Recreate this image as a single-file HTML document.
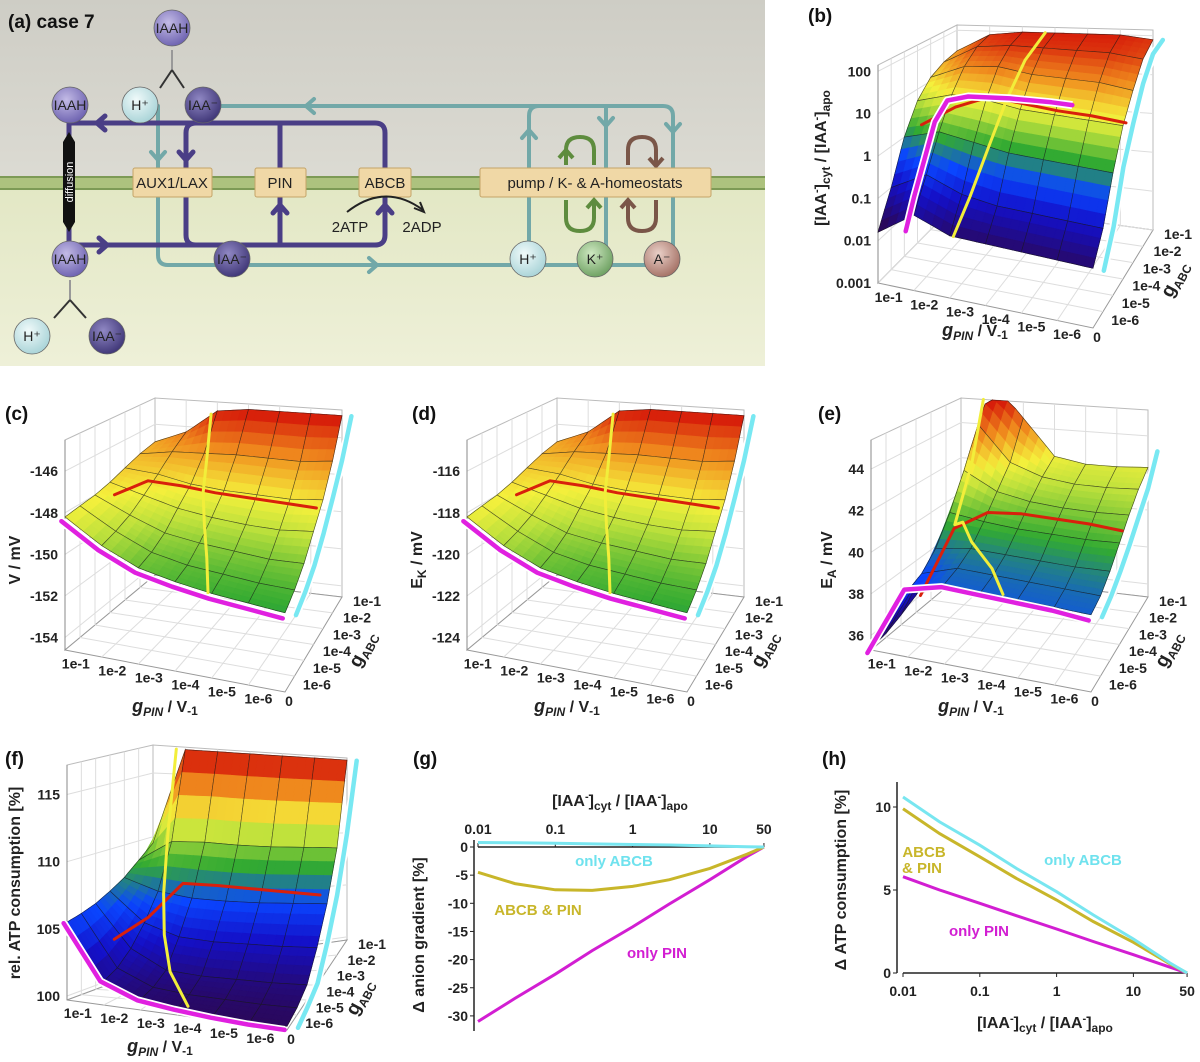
<!DOCTYPE html>
<html><head><meta charset="utf-8">
<style>
html,body{margin:0;padding:0;background:#fff;}
svg{display:block;font-family:"Liberation Sans",Arial,sans-serif;}
.tk{font-size:14px;font-weight:bold;fill:#222;}
.ttl{font-size:16px;font-weight:bold;fill:#222;}
.lbl{font-size:19px;font-weight:bold;fill:#111;}
.ct{font-size:14px;fill:#222;text-anchor:middle;}
.bx{font-size:15px;fill:#222;text-anchor:middle;}
</style></head>
<body>
<svg id="fig" width="1200" height="1062" viewBox="0 0 1200 1062">
<defs>
<linearGradient id="gUp" x1="0" y1="0" x2="0" y2="1"><stop offset="0" stop-color="#cecdc5"/><stop offset="1" stop-color="#dcdbd3"/></linearGradient>
<linearGradient id="gDn" x1="0" y1="0" x2="0" y2="1"><stop offset="0" stop-color="#e2e7c4"/><stop offset="1" stop-color="#eef0d8"/></linearGradient>
<radialGradient id="cIaah" cx="0.4" cy="0.35" r="0.7"><stop offset="0" stop-color="#c3bbe6"/><stop offset="1" stop-color="#6a5fae"/></radialGradient>
<radialGradient id="cIaa" cx="0.4" cy="0.35" r="0.7"><stop offset="0" stop-color="#9088c4"/><stop offset="1" stop-color="#3c3374"/></radialGradient>
<radialGradient id="cH" cx="0.4" cy="0.35" r="0.7"><stop offset="0" stop-color="#f0fafa"/><stop offset="1" stop-color="#a6d2d6"/></radialGradient>
<radialGradient id="cK" cx="0.4" cy="0.35" r="0.7"><stop offset="0" stop-color="#cfe8c2"/><stop offset="1" stop-color="#6a9e5e"/></radialGradient>
<radialGradient id="cA" cx="0.4" cy="0.35" r="0.7"><stop offset="0" stop-color="#ead0c8"/><stop offset="1" stop-color="#a26e62"/></radialGradient>
</defs>

<!-- Panel (a) -->
<g>
<rect x="0" y="0" width="765" height="183" fill="url(#gUp)"/>
<rect x="0" y="183" width="765" height="183" fill="url(#gDn)"/>
<g>
<rect x="0" y="177" width="765" height="12" fill="#adc27e"/>
<line x1="0" y1="177" x2="765" y2="177" stroke="#7d9a55" stroke-width="2"/>
<line x1="0" y1="189" x2="765" y2="189" stroke="#7d9a55" stroke-width="2"/>
</g>
<text x="8" y="28" class="lbl">(a)  case 7</text>

<g fill="none" stroke="#72a8a8" stroke-width="4" stroke-linecap="round">
<path d="M203,106 H663 Q673,106 673,116 V250"/>
<path d="M529,250 V116 Q529,106 539,106"/>
<path d="M606,106 V250"/>
<path d="M158,106 V168 M158,197 V255 Q158,265 168,265 H662"/>
<polyline points="314,99 306,106 314,113"/>
<polyline points="369,258 377,265 369,272"/>
<polyline points="151,152 158,160 165,152"/>
<polyline points="522,138 529,130 536,138"/>
<polyline points="599,118 606,126 613,118"/>
<polyline points="666,124 673,132 680,124"/>
</g>
<g fill="none" stroke="#5e8c3e" stroke-width="4">
<path d="M566,165 V150 Q566,137 580,137 Q594,137 594,150 V165"/>
<path d="M566,200 V218 Q566,231 580,231 Q594,231 594,218 V200"/>
<polyline points="559,158 566,150 573,158"/><polyline points="587,208 594,200 601,208"/>
</g>
<g fill="none" stroke="#7a5648" stroke-width="4">
<path d="M628,165 V150 Q628,137 642,137 Q656,137 656,150 V165"/>
<path d="M628,200 V218 Q628,231 642,231 Q656,231 656,218 V200"/>
<polyline points="649,158 656,166 663,158"/><polyline points="621,208 628,200 635,208"/>
</g>
<g fill="none" stroke="#4a3e86" stroke-width="5" stroke-linecap="round">
<path d="M70,123 H375 Q385,123 385,133 V168"/>
<path d="M69,123 V245 H375 Q385,245 385,235 V197"/>
<path d="M196,123 Q186,123 186,133 V168 M186,197 V235 Q186,245 196,245"/>
<path d="M280,123 V168 M280,197 V245"/>
<polyline points="105,116 97,123 105,130"/>
<polyline points="99,238 107,245 99,252"/>
<polyline points="179,152 186,160 193,152"/>
<polyline points="273,213 280,205 287,213"/>
<polyline points="378,213 385,205 392,213"/>
</g>
<g>
<path d="M69,132 L75,142 V222 L69,232 L63,222 V142 Z" fill="#111"/>
<text x="0" y="0" transform="translate(73,182) rotate(-90)" font-size="11" fill="#fff" text-anchor="middle">diffusion</text>
</g>
<g>
<rect x="133" y="168" width="79" height="29" rx="2" fill="#f0d8a6" stroke="#c4a468"/><text x="172" y="188" class="bx">AUX1/LAX</text>
<rect x="255" y="168" width="51" height="29" rx="2" fill="#f0d8a6" stroke="#c4a468"/><text x="280" y="188" class="bx">PIN</text>
<rect x="359" y="168" width="52" height="29" rx="2" fill="#f0d8a6" stroke="#c4a468"/><text x="385" y="188" class="bx">ABCB</text>
<rect x="480" y="168" width="231" height="29" rx="2" fill="#f0d8a6" stroke="#c4a468"/><text x="595" y="188" class="bx">pump / K- &amp; A-homeostats</text>
</g>
<g>
<path d="M347,212 Q385,182 423,210" fill="none" stroke="#222" stroke-width="2"/>
<polyline points="414,208 424,212 420,202" fill="none" stroke="#222" stroke-width="2"/>
<text x="350" y="232" class="bx">2ATP</text><text x="422" y="232" class="bx">2ADP</text>
</g>
<g stroke="#333" stroke-width="2" fill="none">
<line x1="172" y1="70" x2="172" y2="50" stroke="#999"/>
<path d="M172,70 L160,88 M172,70 L184,88"/>
<line x1="70" y1="300" x2="70" y2="280" stroke="#999"/>
<path d="M70,300 L54,318 M70,300 L86,318"/>
</g>
<g stroke="#666" stroke-width="0.8">
<circle cx="172" cy="28" r="18" fill="url(#cIaah)"/><text x="172" y="33" class="ct" stroke="none">IAAH</text>
<circle cx="140" cy="105" r="18" fill="url(#cH)"/><text x="140" y="110" class="ct" stroke="none">H⁺</text>
<circle cx="203" cy="105" r="18" fill="url(#cIaa)"/><text x="203" y="110" class="ct" stroke="none" fill="#ddd">IAA⁻</text>
<circle cx="70" cy="105" r="18" fill="url(#cIaah)"/><text x="70" y="110" class="ct" stroke="none">IAAH</text>
<circle cx="70" cy="259" r="18" fill="url(#cIaah)"/><text x="70" y="264" class="ct" stroke="none">IAAH</text>
<circle cx="232" cy="259" r="18" fill="url(#cIaa)"/><text x="232" y="264" class="ct" stroke="none" fill="#ddd">IAA⁻</text>
<circle cx="528" cy="259" r="18" fill="url(#cH)"/><text x="528" y="264" class="ct" stroke="none">H⁺</text>
<circle cx="595" cy="259" r="18" fill="url(#cK)"/><text x="595" y="264" class="ct" stroke="none">K⁺</text>
<circle cx="662" cy="259" r="18" fill="url(#cA)"/><text x="662" y="264" class="ct" stroke="none">A⁻</text>
<circle cx="32" cy="336" r="18" fill="url(#cH)"/><text x="32" y="341" class="ct" stroke="none">H⁺</text>
<circle cx="107" cy="336" r="18" fill="url(#cIaa)"/><text x="107" y="341" class="ct" stroke="none" fill="#ddd">IAA⁻</text>
</g>
</g>
<g id="plots"></g>
</svg>

<script>
// ---------- data (rows: gABC 0,1e-6..1e-1 ; cols: gPIN 1e-1..1e-6,0) ----------
const bSurface = [
 [-1.8,-1.2,-1.5,-1.5,-1.5,-1.5,-1.5],
 [-1.0,-0.5,-0.8,-0.9,-0.9,-0.9,-0.9],
 [0.0,0.3,0.2,0.1,0.1,0.1,0.1],
 [0.7,1.0,1.0,0.9,0.9,0.9,0.9],
 [1.1,1.5,1.6,1.5,1.5,1.5,1.4],
 [1.3,1.8,1.9,1.9,1.9,1.9,1.8],
 [1.4,1.9,2.0,2.0,2.0,2.0,1.9]];
const bMagU = [0,0.04,0.09,0.14,0.2,0.3,0.5,0.7,0.8];
const bMagZ = [-2.4,-1.5,-0.5,0.5,1.1,1.3,1.45,1.55,1.58];
const bCyan = [-1.5,-0.8,0.3,1.0,1.6,1.95,1.9];
const bRed = [0.0,0.6,1.0,0.95,0.9,0.9,0.85];
const bYelU = [0.45,0.42,0.4,0.38,0.36,0.35];
const bYelV = [1,0.8,0.6,0.4,0.2,0.0];
const bYelZ = [2.0,1.6,0.9,0.0,-0.9,-1.5];

const cSurface = [
 [-148.2,-149.2,-149.9,-150.2,-150.4,-150.5,-150.6],
 [-148.1,-149.0,-149.7,-150.0,-150.1,-150.2,-150.2],
 [-148.0,-148.7,-149.3,-149.5,-149.6,-149.7,-149.6],
 [-147.8,-148.2,-148.6,-148.8,-148.9,-148.9,-148.7],
 [-147.5,-147.6,-147.9,-148.0,-148.0,-148.0,-147.8],
 [-147.2,-146.9,-146.8,-146.7,-146.7,-146.7,-146.5],
 [-147.0,-146.3,-145.0,-144.8,-144.8,-144.8,-144.8]];
const cMagenta = [-148.3,-149.3,-150.0,-150.3,-150.5,-150.6,-150.7];
const cCyan = [-150.6,-150.2,-149.6,-148.7,-147.6,-146.4,-144.8];
const cRed = [-148.6,-147.6,-147.6,-147.7,-147.7,-147.7,-147.7];
const cYelU = [0.3,0.36,0.42,0.5,0.58,0.65];
const cYelV = [1,0.8,0.6,0.4,0.2,0.0];
const cYelZ = [-145.2,-147.0,-148.0,-148.8,-149.6,-150.4];

const dSurface = [
 [-118.2,-119.2,-119.9,-120.2,-120.4,-120.5,-120.6],
 [-118.1,-119.0,-119.7,-120.0,-120.1,-120.2,-120.2],
 [-118.0,-118.7,-119.3,-119.5,-119.6,-119.7,-119.6],
 [-117.8,-118.2,-118.6,-118.8,-118.9,-118.9,-118.7],
 [-117.5,-117.6,-117.9,-118.0,-118.0,-118.0,-117.8],
 [-117.2,-116.9,-116.8,-116.7,-116.7,-116.7,-116.5],
 [-117.0,-116.3,-115.0,-114.8,-114.8,-114.8,-114.8]];
const dMagenta = [-118.3,-119.3,-120.0,-120.3,-120.5,-120.6,-120.7];
const dCyan = [-120.6,-120.2,-119.6,-118.7,-117.6,-116.4,-114.8];
const dRed = [-118.6,-117.6,-117.6,-117.7,-117.7,-117.7,-117.7];
const dYelU = [0.3,0.36,0.42,0.5,0.58,0.65];
const dYelV = [1,0.8,0.6,0.4,0.2,0.0];
const dYelZ = [-115.2,-117.0,-118.0,-118.8,-119.6,-120.4];

const eSurface = [
 [35.4,38.5,39.2,39.2,39.2,39.2,39.2],
 [35.5,38.8,39.4,39.4,39.4,39.4,39.4],
 [35.8,39.5,39.8,39.8,39.8,39.8,39.9],
 [36.2,40.8,40.6,40.5,40.5,40.5,40.6],
 [36.8,42.5,41.6,41.3,41.2,41.2,41.3],
 [37.5,44.5,42.6,42.0,41.8,41.8,41.9],
 [38.5,46.5,44.5,42.5,42.2,42.2,42.3]];
const eMagenta = [35.3,38.7,39.2,39.2,39.2,39.2,39.1];
const eCyan = [39.2,39.5,40.0,40.6,41.3,42.0,43.2];
const eRed = [36.0,39.8,40.9,41.1,41.1,41.1,41.0];
const eYelU = [0.12,0.15,0.17,0.25,0.35,0.5,0.6];
const eYelV = [1,0.8,0.55,0.45,0.3,0.15,0.0];
const eYelZ = [45.4,42.5,40.0,40.6,40.3,39.8,39.3];

const fSurface = [
 [105.5,101.5,100.5,100.2,100.1,100.0,100.0],
 [105.8,102.0,100.8,100.5,100.4,100.3,100.3],
 [106.2,103.0,101.5,101.2,101.1,101.0,101.0],
 [106.8,104.5,103.5,103.2,103.1,103.0,103.0],
 [107.5,106.5,106.0,105.8,105.7,105.7,105.7],
 [108.5,110.0,110.0,109.8,109.7,109.7,109.7],
 [109.5,117.0,117.0,117.0,117.0,117.0,117.0]];
const fMagenta = [105.5,101.6,100.6,100.3,100.1,100.0,100.0];
const fCyan = [100.0,100.5,101.2,103.5,106.5,111.0,117.0];
const fRed = [103.0,104.8,107.6,107.6,107.5,107.4,107.3];
const fYelU = [0.12,0.16,0.22,0.3,0.4,0.55];
const fYelV = [1,0.8,0.6,0.4,0.2,0.0];
const fYelZ = [117,110.5,106.5,104,102,100.5];

const gpinTicks = ['1e-1','1e-2','1e-3','1e-4','1e-5','1e-6'];
const gabcTicks = ['1e-6','1e-5','1e-4','1e-3','1e-2','1e-1'];
const bZTicks = [-3,-2,-1,0,1,2];
const bZLabels = ['0.001','0.01','0.1','1','10','100'];
const cZTicks = [-154,-152,-150,-148,-146];
const dZTicks = [-124,-122,-120,-118,-116];
const eZTicks = [36,38,40,42,44];
const fZTicks = [100,105,110,115];

// 2D charts
const xVals = [0.01,0.03,0.1,0.3,1,3,10,30,50];
const gOnlyPin = [-31,-26.9,-22.6,-18.4,-14.2,-10.1,-5.8,-1.7,0];
const gAbcbPin = [-4.5,-6.5,-7.6,-7.7,-7.0,-5.8,-3.8,-1.3,0];
const gOnlyAbcb = [0.8,0.75,0.65,0.55,0.45,0.35,0.2,0.05,0];
const gYTicks = [0,-5,-10,-15,-20,-25,-30];
const xTicks = [0.01,0.1,1,10,50];
const xTickLabels = ['0.01','0.1','1','10','50'];
const hOnlyAbcb = [10.6,9.1,7.7,6.3,4.9,3.5,2.05,0.6,0];
const hAbcbPin = [9.9,8.4,7.0,5.7,4.4,3.1,1.85,0.55,0];
const hOnlyPin = [5.8,5.0,4.2,3.45,2.65,1.9,1.1,0.35,0];
const hYTicks = [0,5,10];

const NS='http://www.w3.org/2000/svg';
const root=document.getElementById('plots');
function mk(tag,attrs,parent){const e=document.createElementNS(NS,tag);for(const k in attrs)e.setAttribute(k,attrs[k]);(parent||root).appendChild(e);return e;}
function txt(s,x,y,cls,parent,anchor){const t=mk('text',{x:x,y:y,class:cls,'text-anchor':anchor||'start'},parent);t.textContent=s;return t;}

const stops=[[0,[42,8,92]],[0.2,[20,16,200]],[0.35,[10,70,255]],[0.5,[50,170,50]],[0.64,[190,225,60]],[0.72,[245,240,60]],[0.86,[240,140,30]],[1,[215,30,10]]];
function cmap(t){t=Math.max(0,Math.min(1,t));for(let i=1;i<stops.length;i++){if(t<=stops[i][0]){const a=stops[i-1],b=stops[i],f=(t-a[0])/(b[0]-a[0]);const c=a[1].map((v,k)=>Math.round(v+(b[1][k]-v)*f));return 'rgb('+c.join(',')+')';}}return 'rgb(215,30,10)';}

function P(cfg,u,v,z){const c=cfg.c;const w=[(1-u)*(1-v),u*(1-v),u*v,(1-u)*v];let x=0,y=0,h=0;for(let k=0;k<4;k++){x+=w[k]*c[k][0];y+=w[k]*c[k][1];h+=w[k]*c[k][2];}let t=(z-cfg.z0)/(cfg.z1-cfg.z0);t=Math.max(0,Math.min(1,t));return [x,y-t*h];}
function pts(a){return a.map(p=>p[0].toFixed(1)+','+p[1].toFixed(1)).join(' ');}

function panel3d(cfg){
 const g=mk('g',{});
 
 
 const z0=cfg.z0,z1=cfg.z1;
 const walls=mk('g',{},g);
 
 
 mk('polygon',{points:pts([P(cfg,0,1,z0),P(cfg,1,1,z0),P(cfg,1,1,z1),P(cfg,0,1,z1)]),fill:'#fff',stroke:'#bbb'},walls);
 mk('polygon',{points:pts([P(cfg,0,0,z0),P(cfg,0,1,z0),P(cfg,0,1,z1),P(cfg,0,0,z1)]),fill:'#fff',stroke:'#bbb'},walls);
 mk('polygon',{points:pts([P(cfg,0,0,z0),P(cfg,1,0,z0),P(cfg,1,1,z0),P(cfg,0,1,z0)]),fill:'#fff',stroke:'#999'},walls);
 for(let i=1;i<6;i++){const u=i/6;
  mk('line',{x1:P(cfg,u,1,z0)[0],y1:P(cfg,u,1,z0)[1],x2:P(cfg,u,1,z1)[0],y2:P(cfg,u,1,z1)[1],stroke:'#ddd'},walls);
  mk('line',{x1:P(cfg,u,0,z0)[0],y1:P(cfg,u,0,z0)[1],x2:P(cfg,u,1,z0)[0],y2:P(cfg,u,1,z0)[1],stroke:'#ddd'},walls);
  mk('line',{x1:P(cfg,0,u,z0)[0],y1:P(cfg,0,u,z0)[1],x2:P(cfg,1,u,z0)[0],y2:P(cfg,1,u,z0)[1],stroke:'#ddd'},walls);
  mk('line',{x1:P(cfg,0,u,z0)[0],y1:P(cfg,0,u,z0)[1],x2:P(cfg,0,u,z1)[0],y2:P(cfg,0,u,z1)[1],stroke:'#ddd'},walls);}
 cfg.zt.forEach(z=>{const a=P(cfg,0,0,z),b=P(cfg,0,1,z),c=P(cfg,1,1,z);mk('polyline',{points:pts([a,b,c]),fill:'none',stroke:'#ddd'},walls);});
 mk('line',{x1:P(cfg,0,0,z0)[0],y1:P(cfg,0,0,z0)[1],x2:P(cfg,0,0,z1)[0],y2:P(cfg,0,0,z1)[1],stroke:'#888'},walls);
 // surface
 const S=cfg.S;const quads=[];
 for(let j=0;j<6;j++)for(let i=0;i<6;i++){
  quads.push({key:(j+0.5)/6+(1-(i+0.5)/6)*0.8,i:i,j:j,zs:[S[j][i],S[j][i+1],S[j+1][i+1],S[j+1][i]]});}
 quads.sort((a,b)=>b.key-a.key);
 const sg=mk('g',{},g);
 
 
 const N=4;
 quads.forEach(q=>{
  const qg=mk('g',{},sg);
  
  
  const zAt=(a,b)=>q.zs[0]*(1-a)*(1-b)+q.zs[1]*a*(1-b)+q.zs[2]*a*b+q.zs[3]*(1-a)*b;
  const pt=(a,b)=>P(cfg,(q.i+a)/6,(q.j+b)/6,zAt(a,b));
  for(let sb=N-1;sb>=0;sb--)for(let sa=0;sa<N;sa++){
   const a0=sa/N,a1=(sa+1)/N,b0=sb/N,b1=(sb+1)/N;
   const col=cmap((zAt((a0+a1)/2,(b0+b1)/2)-cfg.c0)/(cfg.c1-cfg.c0));
   mk('polygon',{points:pts([pt(a0,b0),pt(a1,b0),pt(a1,b1),pt(a0,b1)]),fill:col,stroke:col,'stroke-width':0.6},qg);}
  const outline=[];
  for(let k=0;k<=N;k++)outline.push(pt(k/N,0));
  for(let k=1;k<=N;k++)outline.push(pt(1,k/N));
  for(let k=N-1;k>=0;k--)outline.push(pt(k/N,1));
  for(let k=N-1;k>=0;k--)outline.push(pt(0,k/N));
  mk('polygon',{points:pts(outline),fill:'none',stroke:'#1a1a1a','stroke-width':0.6,'stroke-opacity':0.75},qg);
 });
 function line(arr,col,name,white){const l=mk('g',{},g);
  
  
  if(white)mk('polyline',{points:pts(arr),fill:'none',stroke:'#fff','stroke-width':8,'stroke-linejoin':'round'},l);
  mk('polyline',{points:pts(arr),fill:'none',stroke:col,'stroke-width':white?4.5:3,'stroke-linejoin':'round','stroke-linecap':'round'},l);}
 line(cfg.red.map((z,i)=>P(cfg,i/6,0.55,z)),'#d8200c',cfg.name+'-red-line',false);
 line(cfg.yu.map((u,i)=>P(cfg,u,cfg.yv[i],cfg.yz[i])),'#f2ee3a',cfg.name+'-yellow-line',false);
 if(cfg.magU) line(cfg.magU.map((u,i)=>P(cfg,u,0.35,cfg.mag[i])),'#e020e0',cfg.name+'-magenta-line',true);
 else line(cfg.mag.map((z,i)=>P(cfg,i/6,-0.04,z)),'#e020e0',cfg.name+'-magenta-line',true);
 line(cfg.cyan.map((z,j)=>P(cfg,1.05,j/6,z)),'#78e8f2',cfg.name+'-cyan-line',true);
 cfg.zt.forEach((z,k)=>{const p=P(cfg,0,0,z);const t=txt(cfg.zl?cfg.zl[k]:String(z),p[0]-7,p[1]+5,'tk',g,'end');
  
  });
 gpinTicks.forEach((s,i)=>{const p=P(cfg,0.04+0.166*i,0,z0);const t=txt(s,p[0]+2,p[1]+17,'tk',g,'middle');
  
  });
 const p0=P(cfg,1,0,z0);const t0=txt('0',p0[0]+4,p0[1]+14,'tk',g,'middle');
 
 
 gabcTicks.forEach((s,j)=>{const p=P(cfg,1,0.12+0.176*j,z0);const t=txt(s,p[0]+11,p[1]+9,'tk',g,'start');
  
  });
 const pl=txt(cfg.label,cfg.lx,cfg.ly,'lbl',g);
 
 
 const gt=mk('text',{x:cfg.gx,y:cfg.gy,class:'ttl','text-anchor':'middle'},g);
 
 
 gt.innerHTML='<tspan font-style="italic" font-size="18">g</tspan><tspan font-style="italic" font-size="12" dy="4">PIN</tspan><tspan dy="-4"> / V</tspan><tspan font-size="12" dy="3">-1</tspan>';
 const at=mk('text',{x:0,y:0,class:'ttl','text-anchor':'middle',transform:'translate('+cfg.ax+','+cfg.ay+') rotate(-62)'},g);
 
 
 at.innerHTML='<tspan font-size="19">g</tspan><tspan font-size="12" dy="4">ABC</tspan>';
 const yt=mk('text',{x:0,y:0,class:'ttl','text-anchor':'middle',transform:'translate('+cfg.yx+','+cfg.yy+') rotate(-90)'},g);
 
 
 yt.innerHTML=cfg.ytitle;
}

const cC=[[65,650,210],[285,692,200],[342,597,187],[155,575,177]];
function shift(c,dx){return c.map(p=>[p[0]+dx,p[1],p[2]]);}
panel3d({name:'panel-b',c:[[878,283,218],[1093,328,205],[1153,230,200],[957,203,178]],z0:-3,z1:2.15,c0:-1.6,c1:2.0,S:bSurface,
 mag:bMagZ,magU:bMagU,cyan:bCyan,red:bRed,yu:bYelU,yv:bYelV,yz:bYelZ,zt:bZTicks,zl:bZLabels,
 label:'(b)',lx:808,ly:22,gx:975,gy:336,ax:1180,ay:282,yx:826,yy:158,
 ytitle:'[IAA<tspan font-size="11" dy="-6">-</tspan><tspan dy="6">]</tspan><tspan font-size="12" dy="4">cyt</tspan><tspan dy="-4"> / [IAA</tspan><tspan font-size="11" dy="-6">-</tspan><tspan dy="6">]</tspan><tspan font-size="12" dy="4">apo</tspan>'});
panel3d({name:'panel-c',c:cC,z0:-154.6,z1:-144.5,c0:-156,c1:-145,S:cSurface,
 mag:cMagenta,cyan:cCyan,red:cRed,yu:cYelU,yv:cYelV,yz:cYelZ,zt:cZTicks,
 label:'(c)',lx:5,ly:420,gx:165,gy:712,ax:368,ay:652,yx:20,yy:560,ytitle:'V  /  mV'});
panel3d({name:'panel-d',c:shift(cC,402),z0:-124.6,z1:-114.5,c0:-126,c1:-115,S:dSurface,
 mag:dMagenta,cyan:dCyan,red:dRed,yu:dYelU,yv:dYelV,yz:dYelZ,zt:dZTicks,
 label:'(d)',lx:412,ly:420,gx:567,gy:712,ax:770,ay:652,yx:422,yy:560,
 ytitle:'E<tspan font-size="12" dy="4">K</tspan><tspan dy="-4">  /  mV</tspan>'});
panel3d({name:'panel-e',c:shift(cC,806),z0:35.3,z1:45.4,c0:35.3,c1:45.4,S:eSurface,
 mag:eMagenta,cyan:eCyan,red:eRed,yu:eYelU,yv:eYelV,yz:eYelZ,zt:eZTicks,
 label:'(e)',lx:818,ly:420,gx:971,gy:712,ax:1174,ay:652,yx:832,yy:560,
 ytitle:'E<tspan font-size="12" dy="4">A</tspan><tspan dy="-4">  /  mV</tspan>'});
panel3d({name:'panel-f',c:[[67,1000,235],[287,1030,215],[347,940,182],[153,968,223]],z0:99.7,z1:117.2,c0:100,c1:116.5,S:fSurface,
 mag:fMagenta,cyan:fCyan,red:fRed,yu:fYelU,yv:fYelV,yz:fYelZ,zt:fZTicks,
 label:'(f)',lx:5,ly:765,gx:160,gy:1052,ax:365,ay:1000,yx:20,yy:883,ytitle:'rel. ATP consumption [%]'});

// ---------- 2D panels ----------
function chart2d(o){
 const g=mk('g',{});
 
 
 const X=v=>o.x0+(Math.log10(v)+2)*o.dx;
 const Y=v=>o.y0-v*o.dy;
 const ax=mk('g',{},g);
 
 
 mk('line',{x1:o.axX,y1:o.yTop,x2:o.axX,y2:o.yBot,stroke:'#222','stroke-width':1.5},ax);
 mk('line',{x1:X(0.01),y1:o.xAxisY,x2:X(50),y2:o.xAxisY,stroke:'#222','stroke-width':1.5},ax);
 o.yt.forEach(v=>{mk('line',{x1:o.axX-4,y1:Y(v),x2:o.axX,y2:Y(v),stroke:'#222'},ax);
  const t=txt(String(v),o.axX-6,Y(v)+5,'tk',ax,'end');
  
  });
 xTicks.forEach((v,i)=>{mk('line',{x1:X(v),y1:o.xAxisY,x2:X(v),y2:o.xAxisY+o.tickDir*4,stroke:'#222'},ax);
  const t=txt(xTickLabels[i],X(v),o.xLabY,'tk',ax,'middle');
  
  });
 o.series.forEach(s=>{const pl=mk('polyline',{points:xVals.map((x,i)=>X(x).toFixed(1)+','+Y(s.d[i]).toFixed(1)).join(' '),fill:'none',stroke:s.c,'stroke-width':3},g);
  
  });
 o.labels.forEach(l=>{const t=mk('text',{x:l[1],y:l[2],fill:l[3],'font-size':15,'font-weight':'bold','text-anchor':'middle'},g);t.textContent=l[0];
  
  });
 const xt=mk('text',{x:o.xtX,y:o.xtY,class:'ttl','text-anchor':'middle'},g);
 
 
 xt.innerHTML='[IAA<tspan font-size="11" dy="-6">-</tspan><tspan dy="6">]</tspan><tspan font-size="12" dy="4">cyt</tspan><tspan dy="-4"> / [IAA</tspan><tspan font-size="11" dy="-6">-</tspan><tspan dy="6">]</tspan><tspan font-size="12" dy="4">apo</tspan>';
 const yt=mk('text',{x:0,y:0,class:'ttl','text-anchor':'middle',transform:'translate('+o.ytX+','+o.ytY+') rotate(-90)'},g);
 
 
 yt.textContent=o.ytitle;
 const pl=txt(o.label,o.lx,o.ly,'lbl',g);
 
 
}
chart2d({name:'panel-g',x0:478,dx:77.3,y0:847,dy:5.63,axX:474,yTop:840,yBot:1031,xAxisY:847,tickDir:-1,xLabY:834,yt:gYTicks,
 series:[{n:'only-pin-line',d:gOnlyPin,c:'#d21ed2'},{n:'abcb-pin-line',d:gAbcbPin,c:'#c8b62a'},{n:'only-abcb-line',d:gOnlyAbcb,c:'#78e6f0'}],
 labels:[['only ABCB',614,866,'#6fe2ee'],['ABCB & PIN',538,915,'#c8b62a'],['only PIN',657,958,'#d21ed2']],
 xtX:620,xtY:806,ytX:424,ytY:935,ytitle:'\u0394 anion gradient [%]',label:'(g)',lx:413,ly:765});
chart2d({name:'panel-h',x0:903,dx:76.8,y0:973,dy:16.6,axX:897,yTop:782,yBot:973,xAxisY:973,tickDir:1,xLabY:996,yt:hYTicks,
 series:[{n:'only-pin-line',d:hOnlyPin,c:'#d21ed2'},{n:'abcb-pin-line',d:hAbcbPin,c:'#c8b62a'},{n:'only-abcb-line',d:hOnlyAbcb,c:'#78e6f0'}],
 labels:[['only ABCB',1083,865,'#6fe2ee'],['only PIN',979,936,'#d21ed2']],
 xtX:1045,xtY:1028,ytX:846,ytY:880,ytitle:'\u0394 ATP consumption [%]',label:'(h)',lx:822,ly:765});
const hl=document.createElementNS(NS,'text');
hl.setAttribute('x','924');hl.setAttribute('y','857');hl.setAttribute('fill','#c8b62a');hl.setAttribute('font-size','15');hl.setAttribute('font-weight','bold');hl.setAttribute('text-anchor','middle');


hl.innerHTML='<tspan x="924">ABCB</tspan><tspan x="922" dy="16">&amp; PIN</tspan>';
root.appendChild(hl);
</script>
</body></html>
